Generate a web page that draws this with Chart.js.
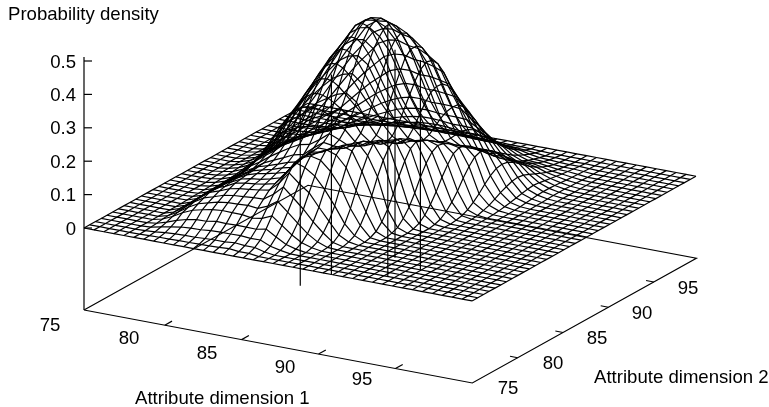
<!DOCTYPE html>
<html>
<head>
<meta charset="utf-8">
<style>
  html, body { margin: 0; padding: 0; background: #fff; }
  canvas { display: block; }
</style>
<script src="https://cdn.jsdelivr.net/npm/chart.js@4/dist/chart.umd.min.js"></script>
</head>
<body>
<canvas id="grafico" width="769" height="407"></canvas>
<script>
// mesh positions on the two attribute axes
const dim1Grid = [74.75,75.40,76.04,76.69,77.34,77.99,78.63,79.28,79.93,80.57,81.22,81.87,82.51,83.16,83.81,84.46,85.10,85.75,86.40,87.04,87.69,88.34,88.98,89.63,90.28,90.93,91.57,92.22,92.87,93.51,94.16,94.81,95.45,96.10,96.75,97.40,98.04,98.69,99.34,99.98]
const dim2Grid = [75,75.63,76.27,76.90,77.53,78.17,78.80,79.43,80.06,80.70,81.33,81.96,82.60,83.23,83.86,84.50,85.13,85.76,86.39,87.03,87.66,88.29,88.93,89.56,90.19,90.83,91.46,92.09,92.72,93.36,93.99,94.62,95.26,95.89,96.52,97.16,97.79,98.42,99.05,99.69]

// density, in thousandths, one row per dim1Grid value
const flat = [0,0,0,0,0,0,0,0,0,0,0,0,0,0,0,0,0,0,0,0,0,0,0,0,0,0,0,0,0,0,0,0,0,0,0,0,0,0,0,0]
const densityMilli = [
  flat, flat, flat,
  [0,0,0,0,0,0,0,0,0,0,0,0,0,0,0,0,0,2,3,4,4,5,5,5,5,5,4,4,4,3,2,2,1,1,0,0,0,0,0,0],
  [0,0,0,0,0,0,0,0,0,0,0,1,2,2,3,4,6,7,9,10,12,13,14,14,14,13,12,11,10,8,7,5,4,3,2,1,0,0,0,0],
  [0,0,1,2,4,7,8,9,10,10,10,11,11,12,12,13,15,17,19,22,25,27,29,30,30,29,27,24,21,18,15,11,9,6,5,3,2,1,0,0],
  [0,1,3,8,13,20,24,27,30,31,31,32,31,30,30,31,33,36,41,46,52,56,58,60,60,57,54,48,42,36,29,23,17,13,9,6,4,2,1,0],
  [0,2,6,14,24,37,44,50,55,57,58,58,56,54,53,56,58,64,72,80,90,97,102,105,104,101,94,85,74,62,51,40,31,23,16,11,7,3,1,0],
  [0,2,8,19,32,50,60,68,75,79,80,82,80,79,80,86,92,104,118,134,149,162,170,175,175,169,157,142,124,104,85,67,51,38,27,19,11,5,2,0],
  [0,3,9,21,37,57,68,77,85,89,92,94,94,94,96,104,114,130,148,169,188,205,216,222,222,214,199,180,157,132,108,85,65,48,34,24,14,7,2,0],
  [0,3,9,22,38,63,76,87,97,104,107,110,112,115,117,126,136,157,180,206,231,252,266,274,273,263,246,222,193,163,133,105,80,59,42,29,18,8,3,0],
  [0,4,11,25,43,66,80,92,103,110,114,119,121,124,131,145,163,187,216,246,275,300,317,326,325,313,292,264,230,194,158,125,95,70,50,35,21,10,3,0],
  [0,4,12,26,42,65,81,94,106,113,117,125,128,134,144,163,183,213,247,283,317,346,365,375,374,360,336,303,264,223,182,144,109,81,58,40,24,11,4,0],
  [0,5,12,26,43,65,83,97,110,118,124,132,138,145,158,179,203,237,275,315,352,384,407,418,415,400,373,337,294,248,202,160,122,90,64,44,27,13,4,0],
  [0,7,15,27,43,60,80,98,115,125,133,140,145,152,165,185,214,251,294,344,387,426,452,465,463,445,415,373,324,272,220,172,131,97,69,48,29,14,5,0],
  [0,4,12,24,42,65,92,118,142,158,168,174,178,183,190,205,231,268,312,362,407,447,473,487,484,465,432,389,337,283,230,179,136,101,72,50,30,14,5,0],
  [0,4,12,25,48,78,112,145,178,200,204,202,202,205,212,228,250,282,321,370,414,453,479,491,488,469,436,393,340,284,231,180,137,101,73,50,31,14,5,0],
  [0,0,4,12,30,55,85,118,152,190,215,214,208,205,207,216,236,264,300,345,392,430,458,478,478,460,426,383,332,277,225,175,134,99,71,49,30,14,5,0],
  [0,0,0,5,13,32,58,90,130,170,208,230,224,214,205,202,206,222,250,290,335,378,420,445,455,445,420,380,330,277,225,176,132,96,68,46,28,13,4,0],
  [0,0,0,0,5,14,32,58,92,135,180,220,238,232,220,208,200,200,212,238,275,318,358,395,412,412,397,365,322,272,222,175,132,96,66,44,27,12,4,0],
  [0,0,0,0,0,5,13,30,56,92,140,188,228,243,238,226,212,200,196,205,228,262,298,332,358,370,365,345,310,265,218,172,130,95,66,44,27,12,4,0],
  [0,0,0,0,0,0,2,7,20,44,80,125,172,210,236,236,226,212,198,190,196,216,245,272,293,302,300,285,258,224,186,148,113,84,60,40,25,11,3,0],
  [0,0,0,0,0,0,0,0,5,14,35,66,105,152,192,222,234,228,216,202,190,186,192,206,222,232,236,234,218,192,160,128,99,74,54,36,22,10,3,0],
  [0,0,0,0,0,0,0,0,0,0,4,13,32,60,97,140,176,204,215,210,200,188,176,168,168,170,170,165,155,138,118,97,76,58,42,29,18,8,2,0],
  [0,0,0,0,0,0,0,0,0,0,0,0,4,11,29,53,86,124,156,180,190,186,176,163,150,136,124,112,100,88,75,62,49,37,27,18,11,5,1,0],
  [0,0,0,0,0,0,0,0,0,0,0,0,0,0,3,10,25,48,76,110,139,162,170,166,155,140,122,104,88,72,58,45,34,25,17,11,6,2,0,0],
  [0,0,0,0,0,0,0,0,0,0,0,0,0,0,0,0,3,9,22,41,65,94,119,138,145,140,128,112,94,77,60,46,33,23,15,9,5,2,0,0],
  [0,0,0,0,0,0,0,0,0,0,0,0,0,0,0,0,0,0,2,6,14,27,43,62,78,90,93,90,80,66,52,38,27,18,11,6,3,1,0,0],
  [0,0,0,0,0,0,0,0,0,0,0,0,0,0,0,0,0,0,0,1,3,8,14,23,33,41,48,50,47,40,32,24,17,11,7,4,2,0,0,0],
  [0,0,0,0,0,0,0,0,0,0,0,0,0,0,0,0,0,0,0,0,0,1,3,6,9,13,17,20,22,20,17,14,11,8,6,4,2,1,0,0],
  [0,0,0,0,0,0,0,0,0,0,0,0,0,0,0,0,0,0,0,0,0,0,0,1,2,4,6,8,9,9,8,7,5,4,3,2,1,0,0,0],
  [0,0,0,0,0,0,0,0,0,0,0,0,0,0,0,0,0,0,0,0,0,0,0,0,0,1,1,2,3,3,3,2,2,1,0,0,0,0,0,0],
  flat, flat, flat, flat, flat, flat, flat, flat
]

// the five samples drawn as impulses
const sampleDim1 = [83.15, 83.7, 86.6, 85.3, 87.6]
const sampleDim2 = [84.6, 87.1, 88.4, 91.4, 90.3]
const sampleDensity = [0.282, 0.354, 0.509, 0.377, 0.383]

const dim1Ticks = [80, 85, 90, 95]
const dim2Ticks = [80, 85, 90, 95]
const densityTicks = [0, 0.1, 0.2, 0.3, 0.4, 0.5]
const densityLabels = ['0', '0.1', '0.2', '0.3', '0.4', '0.5']

const dim1Min = 74.75, dim1Max = 100
const dim2Min = 75, dim2Max = 99.7
const baseDensity = -0.2455

// gnuplot style view: attribute space to page position
function projetar(d1, d2, dens) {
  const a = d1 - dim1Min
  const b = d2 - dim2Min
  return {
    x: 84 + a * 15.38 + b * 9.07,
    y: 228 + a * 2.89 - b * 5.05 - dens * 334
  }
}

const datasets = []
function addLinha(pontos) {
  datasets.push({
    data: pontos,
    showLine: true,
    borderColor: '#000',
    borderWidth: 1.2,
    pointRadius: 0,
    tension: 0
  })
}

// surface mesh
dim1Grid.forEach((d1, i) => {
  addLinha(dim2Grid.map((d2, j) => projetar(d1, d2, (densityMilli[i][j] || 0) / 1000)))
})
dim2Grid.forEach((d2, j) => {
  addLinha(dim1Grid.map((d1, i) => projetar(d1, d2, (densityMilli[i][j] || 0) / 1000)))
})

// base frame and z axis
addLinha([
  projetar(dim1Min, dim2Min, baseDensity),
  projetar(dim1Max, dim2Min, baseDensity),
  projetar(dim1Max, dim2Max, baseDensity),
  projetar(dim1Min, dim2Max, baseDensity),
  projetar(dim1Min, dim2Min, baseDensity)
])
addLinha([projetar(dim1Min, dim2Min, baseDensity), projetar(dim1Min, dim2Min, 0.512)])

dim1Ticks.forEach(t => addLinha([projetar(t, dim2Min, baseDensity), projetar(t, dim2Min + 0.8, baseDensity)]))
dim2Ticks.forEach(t => addLinha([projetar(dim1Max, t, baseDensity), projetar(dim1Max - 0.5, t, baseDensity)]))
densityTicks.forEach(t => {
  const p = projetar(dim1Min, dim2Min, t)
  addLinha([p, { x: p.x + 8, y: p.y }])
})

// impulses
sampleDim1.forEach((d1, k) => {
  addLinha([projetar(d1, sampleDim2[k], baseDensity), projetar(d1, sampleDim2[k], sampleDensity[k])])
})

const textos = {
  id: 'textos',
  afterDraw(chart) {
    const ctx = chart.ctx
    ctx.save()
    ctx.fillStyle = '#000'
    ctx.font = '18.6px "Liberation Sans", Arial, sans-serif'
    ctx.textBaseline = 'alphabetic'
    ctx.textAlign = 'left'
    ctx.fillText('Probability density', 8, 20)
    ctx.fillText('Attribute dimension 1', 135, 404)
    ctx.fillText('Attribute dimension 2', 594, 383)

    ctx.textAlign = 'right'
    densityTicks.forEach((t, k) => {
      ctx.fillText(densityLabels[k], 76, projetar(dim1Min, dim2Min, t).y + 6.5)
    })

    ctx.textAlign = 'center'
    const labels1 = [75, 80, 85, 90, 95]
    const labelsPos1 = [[50, 331], [129, 344], [207, 359], [285, 373], [362, 385]]
    labels1.forEach((t, k) => ctx.fillText(String(t), labelsPos1[k][0], labelsPos1[k][1]))
    const labels2 = [75, 80, 85, 90, 95]
    const labelsPos2 = [[508, 394], [553, 369], [597, 344], [642, 319], [688, 294]]
    labels2.forEach((t, k) => ctx.fillText(String(t), labelsPos2[k][0], labelsPos2[k][1]))
    ctx.restore()
  }
}

new Chart(document.getElementById('grafico'), {
  type: 'scatter',
  data: { datasets: datasets },
  options: {
    responsive: false,
    animation: false,
    devicePixelRatio: 1,
    layout: { padding: 0 },
    plugins: { legend: { display: false }, tooltip: { enabled: false } },
    scales: {
      x: { type: 'linear', display: false, min: 0, max: 769 },
      y: { type: 'linear', display: false, min: 0, max: 407, reverse: true }
    }
  },
  plugins: [textos]
})
</script>
</body>
</html>
